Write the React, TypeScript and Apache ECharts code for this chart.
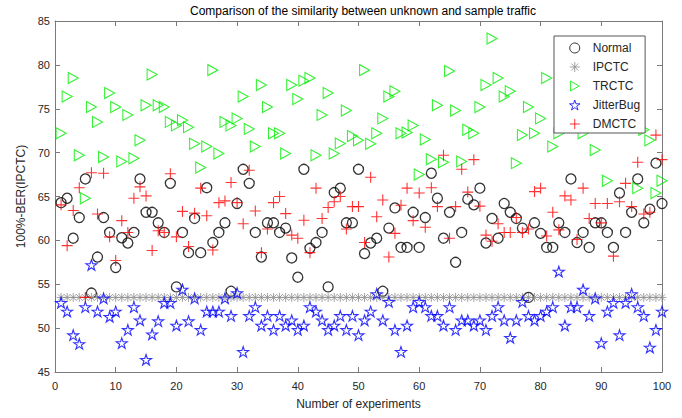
import React, { useEffect, useRef } from "react";
import * as echarts from "echarts";

const title = "Comparison of the similarity between unknown and sample traffic";
const xName = "Number of experiments";
const yName = "100%-BER(IPCTC)";
const seriesNames = ["Normal", "IPCTC", "TRCTC", "JitterBug", "DMCTC"];

const normal = [
  64.3, 64.8, 60.25, 62.6, 67.0, 54.0, 58.1, 62.6, 60.9, 56.9,
  60.3, 59.7, 60.9, 67.0, 63.2, 63.2, 62.0, 60.9, 66.5, 54.7,
  60.9, 58.6, 62.5, 58.6, 66.0, 59.75, 60.9, 62.0, 54.2, 64.2,
  68.1, 66.5, 60.9, 58.1, 62.0, 62.0, 60.9, 61.4, 58.0, 55.8,
  68.1, 59.1, 59.75, 60.9, 54.7, 65.45, 65.95, 62.0, 62.0, 68.1,
  58.5, 59.7, 60.25, 54.2, 61.4, 63.7, 59.2, 59.2, 63.2, 59.2,
  62.6, 67.65, 64.8, 60.25, 63.2, 57.5, 60.9, 64.7, 64.05, 65.95,
  59.7, 62.5, 60.25, 64.2, 63.2, 62.5, 61.4, 53.5, 62.0, 60.8,
  59.2, 59.2, 62.0, 60.9, 67.0, 59.75, 60.9, 59.2, 62.0, 62.0,
  60.9, 59.2, 65.4, 60.9, 63.2, 67.0, 62.0, 63.55, 68.8, 64.2,
];

const ipctc = [
  53.5, 53.5, 53.5, 53.5, 53.5, 53.5, 53.5, 53.5, 53.5, 53.5,
  53.5, 53.5, 53.5, 53.5, 53.5, 53.5, 53.5, 53.5, 53.5, 53.5,
  53.5, 53.5, 53.5, 53.5, 53.5, 53.5, 53.5, 53.5, 53.5, 53.5,
  53.5, 53.5, 53.5, 53.5, 53.5, 53.5, 53.5, 53.5, 53.5, 53.5,
  53.5, 53.5, 53.5, 53.5, 53.5, 53.5, 53.5, 53.5, 53.5, 53.5,
  53.5, 53.5, 53.5, 53.5, 53.5, 53.5, 53.5, 53.5, 53.5, 53.5,
  53.5, 53.5, 53.5, 53.5, 53.5, 53.5, 53.5, 53.5, 53.5, 53.5,
  53.5, 53.5, 53.5, 53.5, 53.5, 53.5, 53.5, 53.5, 53.5, 53.5,
  53.5, 53.5, 53.5, 53.5, 53.5, 53.5, 53.5, 53.5, 53.5, 53.5,
  53.5, 53.5, 53.5, 53.5, 53.5, 53.5, 53.5, 53.5, 53.5, 53.5,
];

const trctc = [
  72.2, 76.4, 78.5, 69.7, 64.8, 75.2, 73.5, 69.5, 76.8, 75.2,
  69.0, 74.3, 69.35, 71.4, 75.4, 78.9, 75.4, 75.2, 73.5, 73.1,
  73.7, 72.9, 71.0, 68.3, 70.7, 79.4, 69.9, 73.5, 73.1, 73.9,
  76.4, 72.7, 70.7, 77.7, 75.2, 72.2, 72.2, 69.9, 77.7, 76.1,
  78.2, 78.5, 69.7, 74.3, 76.8, 69.9, 71.05, 74.8, 71.9, 71.4,
  79.4, 71.0, 72.2, 73.9, 76.4, 77.0, 72.2, 72.3, 73.1, 67.5,
  71.5, 69.25, 75.4, 68.9, 79.3, 74.8, 69.0, 72.6, 72.2, 75.2,
  77.7, 83.0, 78.5, 76.4, 77.0, 68.8, 72.0, 75.2, 72.2, 73.9,
  78.5, 70.7, 72.2, 76.5, 79.5, 75.0, 72.2, 78.0, 70.3, 80.5,
  66.8, 73.3, 77.0, 73.2, 75.5, 65.95, 72.6, 71.4, 65.4, 66.8,
];

const jitterBug = [
  52.9, 51.9, 49.2, 48.2, 52.4, 57.2, 51.9, 53.4, 51.3, 51.9,
  48.3, 49.8, 52.4, 50.9, 46.4, 49.3, 50.8, 52.9, 52.9, 50.3,
  54.4, 50.8, 53.4, 49.8, 51.9, 51.9, 51.9, 53.4, 51.4, 54.0,
  47.3, 51.4, 52.4, 50.3, 51.4, 49.8, 51.4, 50.3, 50.9, 49.8,
  50.3, 52.4, 51.9, 50.9, 49.8, 50.3, 51.4, 49.8, 51.4, 49.2,
  50.9, 51.9, 53.9, 50.9, 53.0, 49.8, 47.3, 50.3, 52.4, 53.0,
  52.4, 51.4, 51.4, 50.3, 52.4, 49.8, 50.9, 50.9, 50.3, 50.9,
  49.8, 51.4, 52.4, 50.9, 48.9, 50.9, 53.0, 51.4, 50.9, 51.4,
  51.9, 52.4, 56.45, 50.3, 52.4, 52.4, 54.4, 51.4, 53.4, 48.3,
  51.9, 52.9, 49.2, 52.9, 53.9, 52.4, 51.4, 47.8, 49.8, 51.9,
];

const dmctc = [
  64.05, 59.4, 63.4, 66.0, 53.5, 67.7, 63.0, 67.65, 60.4, 57.7,
  62.25, 60.9, 64.8, 66.1, 65.07, 58.85, 61.1, 60.9, 67.6, 60.4,
  63.3, 59.3, 63.1, 65.95, 62.8, 58.9, 64.3, 64.5, 66.6, 64.3,
  61.9, 68.0, 63.35, 58.6, 61.3, 64.3, 65.0, 63.05, 60.6, 60.25,
  62.3, 58.6, 65.95, 62.5, 63.75, 64.4, 65.0, 61.3, 63.85, 63.85,
  59.75, 67.2, 62.7, 64.6, 58.1, 60.8, 64.0, 65.95, 62.25, 65.4,
  61.5, 66.0, 63.85, 69.7, 60.25, 63.85, 68.1, 65.5, 69.2, 63.9,
  60.6, 59.9, 61.9, 60.9, 60.9, 62.6, 60.9, 61.3, 65.56, 65.95,
  60.5, 63.2, 61.2, 65.07, 64.6, 60.1, 65.95, 62.5, 64.2, 62.0,
  64.2, 58.2, 64.4, 66.5, 63.85, 68.9, 63.0, 63.2, 72.0, 69.2,
];

const xTicks = { min: 0, max: 100, interval: 10 };
const yTicks = { min: 45, max: 85, interval: 5 };

const PLUS = "path://M5,0 L5,10 M0,5 L10,5";
const ASTERISK = "path://M5,0 L5,10 M0,5 L10,5 M1.5,1.5 L8.5,8.5 M1.5,8.5 L8.5,1.5";
const TRI_RIGHT = "path://M0,0 L8.7,5 L0,10 Z";
const STAR =
  "path://M100,0 L122.45,69.1 L195.1,69.1 L136.3,111.8 L158.8,180.9 L100,138.2 L41.2,180.9 L63.7,111.8 L4.9,69.1 L77.55,69.1 Z";

const toPoints = (vals: number[]) => vals.map((v, i) => [i + 1, v]);

export default function App() {
  const ref = useRef<HTMLDivElement>(null);
  useEffect(() => {
    if (!ref.current) return;
    const chart = echarts.init(ref.current, undefined, { renderer: "svg" });
    const font = "'Liberation Sans', Arial, Helvetica, sans-serif";
    const axisColor = "#7a7a7a";
    const labelColor = "#262626";
    const baseAxis = {
      splitLine: { show: false },
      axisLine: { show: true, onZero: false, lineStyle: { color: axisColor, width: 1 } },
      axisTick: { show: true, inside: true, length: 5, lineStyle: { color: axisColor } },
    };
    chart.setOption({
      animation: false,
      backgroundColor: "#ffffff",
      textStyle: { fontFamily: font },
      title: {
        text: title,
        left: 358,
        top: 0,
        textAlign: "center",
        textStyle: { fontSize: 12, fontWeight: "normal", color: "#000", fontFamily: font },
      },
      legend: {
        data: seriesNames,
        orient: "vertical",
        left: 554,
        top: 36,
        itemWidth: 16,
        itemHeight: 10,
        itemGap: 7,
        padding: [6, 5, 3, 15],
        backgroundColor: "#ffffff",
        borderColor: "#555555",
        borderWidth: 1,
        borderRadius: 0,
        z: 10,
        itemStyle: { color: "rgba(0,0,0,0)", borderWidth: 1 },
        textStyle: { fontSize: 12, color: labelColor, fontFamily: font, padding: [0, 0, 0, 5] },
      },
      grid: { left: 55, right: 20, top: 21, bottom: 46, containLabel: false },
      xAxis: [
        {
          ...baseAxis,
          type: "value",
          position: "bottom",
          ...xTicks,
          name: xName,
          nameLocation: "middle",
          nameGap: 26,
          nameTextStyle: { fontSize: 12, color: labelColor, fontFamily: font },
          axisLabel: { fontSize: 11, color: labelColor, margin: 8, fontFamily: font },
        },
        {
          ...baseAxis,
          type: "value",
          position: "top",
          ...xTicks,
          axisLabel: { show: false },
        },
      ],
      yAxis: [
        {
          ...baseAxis,
          type: "value",
          position: "left",
          ...yTicks,
          name: yName,
          nameLocation: "middle",
          nameGap: 28,
          nameTextStyle: { fontSize: 12, color: labelColor, fontFamily: font },
          axisLabel: { fontSize: 11, color: labelColor, margin: 5, fontFamily: font },
        },
        {
          ...baseAxis,
          type: "value",
          position: "right",
          ...yTicks,
          axisLabel: { show: false },
        },
      ],
      series: [
        {
          name: seriesNames[0],
          type: "scatter",
          data: toPoints(normal),
          symbol: "circle",
          symbolSize: 10,
          itemStyle: { color: "rgba(0,0,0,0)", borderColor: "#000000", borderWidth: 1.3 },
        },
        {
          name: seriesNames[1],
          type: "scatter",
          data: toPoints(ipctc),
          symbol: ASTERISK,
          symbolSize: 9,
          itemStyle: { color: "rgba(0,0,0,0)", borderColor: "#8c8c8c", borderWidth: 1 },
        },
        {
          name: seriesNames[2],
          type: "scatter",
          data: toPoints(trctc),
          symbol: TRI_RIGHT,
          symbolSize: [10, 11],
          itemStyle: { color: "rgba(0,0,0,0)", borderColor: "#00ee00", borderWidth: 1.1 },
        },
        {
          name: seriesNames[3],
          type: "scatter",
          data: toPoints(jitterBug),
          symbol: STAR,
          symbolSize: [11, 10.5],
          itemStyle: { color: "rgba(0,0,0,0)", borderColor: "#0000ff", borderWidth: 1.1 },
        },
        {
          name: seriesNames[4],
          type: "scatter",
          data: toPoints(dmctc),
          symbol: PLUS,
          symbolSize: 11,
          itemStyle: { color: "rgba(0,0,0,0)", borderColor: "#ff0000", borderWidth: 1.1 },
        },
      ],
    });
    return () => chart.dispose();
  }, []);
  return (
    <div
      ref={ref}
      style={{ position: "fixed", left: 0, top: 0, width: 682, height: 418, background: "#fff" }}
    />
  );
}
